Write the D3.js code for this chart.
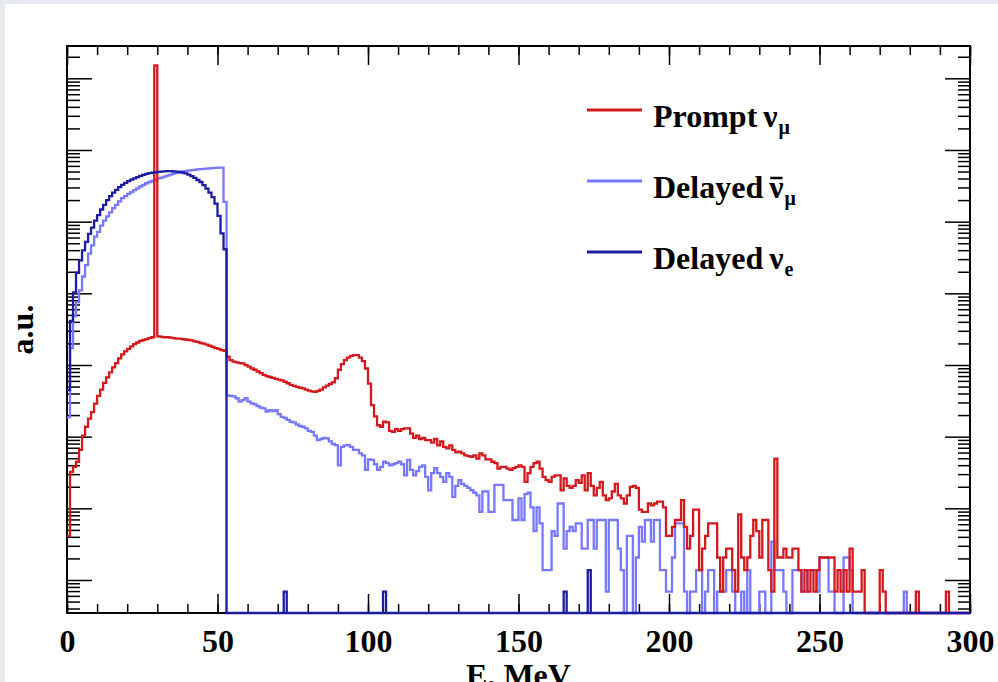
<!DOCTYPE html>
<html>
<head>
<meta charset="utf-8">
<script src="https://cdn.jsdelivr.net/npm/d3@7"></script>
<style>
  html, body { margin: 0; padding: 0; background: #fff; }
  svg { display: block; }
  text { font-family: "Liberation Serif", "Times New Roman", serif; font-weight: bold; font-size: 32px; fill: #000; }
</style>
</head>
<body>
<svg id="chart" width="998" height="682"></svg>
<script>
// energy bins: 1 MeV wide, 0..300 MeV; contents in entries per bin
const binWidth = 1;
const energyRange = [0, 300];
const auPerCount = 0.687; // entries -> a.u. on the log axis

const promptNuMu = [
  6, 47, 55, 65, 95, 150, 200, 260, 320, 420,
  540, 660, 820, 980, 1150, 1350, 1550, 1800, 2050, 2250,
  2450, 2650, 2850, 3000, 3150, 3250, 3350, 3450, 3550, 22000000,
  3650, 3600, 3550, 3550, 3500, 3450, 3400, 3400, 3350, 3300,
  3250, 3200, 3100, 3050, 2950, 2900, 2800, 2700, 2600, 2500,
  2450, 2350, 2300, 1900, 1700, 1620, 1580, 1550, 1530, 1450,
  1380, 1300, 1250, 1180, 1120, 1060, 1020, 990, 960, 930,
  910, 890, 850, 810, 770, 745, 720, 700, 685, 660,
  640, 625, 615, 635, 660, 710, 750, 790, 830, 950,
  1250, 1500, 1700, 1850, 1950, 2000, 2000, 1850, 1650, 1300,
  800, 400, 280, 210, 200, 235, 230, 175, 170, 185,
  175, 185, 190, 190, 160, 140, 150, 135, 140, 130,
  130, 120, 135, 110, 125, 105, 100, 110, 95, 88,
  90, 85, 80, 78, 76, 80, 72, 85, 80, 70,
  70, 65, 62, 52, 55, 55, 52, 50, 53, 55,
  58, 55, 34, 45, 55, 62, 65, 52, 40, 36,
  34, 40, 42, 42, 26, 38, 30, 28, 30, 36,
  33, 42, 26, 45, 30, 22, 28, 34, 22, 19,
  20, 25, 32, 22, 20, 17, 22, 29, 30, 28,
  14, 13, 13, 17, 16, 17, 18, 18, 15, 6,
  6, 8, 10, 10, 19, 8, 4, 6, 14, 14,
  2, 4, 6, 9, 9, 9, 3, 1, 3, 4,
  4, 2, 1, 12, 3, 2, 3, 6, 10, 7,
  3, 10, 10, 2, 1, 72, 3, 3, 4, 3,
  3, 4, 4, 2, 1, 2, 1, 2, 1, 2,
  3, 3, 3, 3, 3, 1, 2, 1, 2, 1,
  4, 1, 1, 1, 2, 0, 0, 0, 0, 0,
  2, 1, 0, 0, 0, 0, 0, 0, 0, 0,
  0, 0, 1, 0, 0, 0, 0, 0, 0, 0,
  0, 0, 1, 0, 0, 0, 0, 0, 0, 0
];

const delayedNuMuBar = [
  270, 2500, 7000, 11000, 16000, 25000, 36000, 52000, 68000, 90000,
  105000, 128000, 150000, 172000, 196000, 225000, 250000, 280000, 310000, 330000,
  355000, 375000, 400000, 425000, 450000, 475000, 500000, 520000, 540000, 560000,
  585000, 600000, 620000, 640000, 660000, 684000, 700000, 715000, 728000, 740000,
  750000, 760000, 770000, 780000, 785000, 795000, 800000, 808000, 815000, 820000,
  825000, 828000, 275000, 550, 540, 530, 500, 450, 470, 500,
  450, 425, 410, 390, 370, 360, 325, 340, 330, 340,
  300, 275, 265, 250, 235, 230, 215, 205, 200, 190,
  175, 170, 150, 130, 135, 140, 138, 125, 115, 111,
  58, 105, 110, 111, 105, 95, 95, 85, 80, 50,
  70, 69, 60, 50, 55, 65, 62, 58, 60, 62,
  65, 60, 42, 69, 50, 42, 48, 55, 58, 40,
  26, 45, 53, 45, 40, 34, 45, 40, 21, 30,
  36, 32, 30, 28, 26, 24, 22, 13, 25, 25,
  13, 13, 31, 31, 31, 19, 19, 19, 10, 10,
  20, 10, 23, 24, 15, 7, 15, 9, 2, 2,
  2, 7, 6, 17, 17, 4, 7, 8, 7, 9,
  9, 4, 4, 10, 10, 4, 10, 10, 10, 1,
  10, 10, 10, 4, 2, 0, 6, 6, 0, 3,
  8, 5, 10, 10, 5, 10, 10, 2, 2, 1,
  1, 3, 9, 9, 9, 1, 0, 1, 1, 2,
  2, 0, 1, 2, 2, 0, 1, 1, 1, 2,
  2, 1, 0, 0, 1, 0, 2, 0, 0, 0,
  1, 1, 0, 0, 5, 2, 2, 2, 1, 0,
  0, 2, 2, 2, 1, 1, 2, 2, 2, 1,
  3, 3, 3, 1, 1, 0, 0, 0, 3, 3,
  2, 0, 0, 0, 0, 0, 0, 0, 0, 0,
  0, 0, 0, 0, 0, 0, 0, 0, 1, 0,
  0, 0, 0, 0, 0, 0, 0, 0, 0, 0,
  0, 0, 0, 0, 0, 0, 0, 0, 0, 0
];

const delayedNuE = [
  650, 6000, 15000, 28000, 42000, 58000, 76000, 98000, 120000, 150000,
  180000, 215000, 250000, 290000, 330000, 370000, 405000, 440000, 475000, 505000,
  535000, 560000, 585000, 610000, 635000, 655000, 675000, 690000, 700000, 712000,
  720000, 728000, 733000, 736000, 736000, 733000, 728000, 718000, 705000, 685000,
  660000, 630000, 595000, 555000, 520000, 470000, 420000, 370000, 320000, 260000,
  175000, 100000, 60000, 0, 0, 0, 0, 0, 0, 0,
  0, 0, 0, 0, 0, 0, 0, 0, 0, 0,
  0, 0, 1, 0, 0, 0, 0, 0, 0, 0,
  0, 0, 0, 0, 0, 0, 0, 0, 0, 0,
  0, 0, 0, 0, 0, 0, 0, 0, 0, 0,
  0, 0, 0, 0, 0, 1, 0, 0, 0, 0,
  0, 0, 0, 0, 0, 0, 0, 0, 0, 0,
  0, 0, 0, 0, 0, 0, 0, 0, 0, 0,
  0, 0, 0, 0, 0, 0, 0, 0, 0, 0,
  0, 0, 0, 0, 0, 0, 0, 0, 0, 0,
  0, 0, 0, 0, 0, 0, 0, 0, 0, 0,
  0, 0, 0, 0, 0, 1, 0, 0, 0, 0,
  0, 0, 0, 2, 0, 0, 0, 0, 0, 0,
  0, 0, 0, 0, 0, 0, 0, 0, 0, 0,
  0, 0, 0, 0, 0, 0, 0, 0, 0, 0,
  0, 0, 0, 0, 0, 0, 0, 0, 0, 0,
  0, 0, 0, 0, 0, 0, 0, 0, 0, 0,
  0, 0, 0, 0, 0, 0, 0, 0, 0, 0,
  0, 0, 0, 0, 0, 0, 0, 0, 0, 0,
  0, 0, 0, 0, 0, 0, 0, 0, 0, 0,
  0, 0, 0, 0, 0, 0, 0, 0, 0, 0,
  0, 0, 0, 0, 0, 0, 0, 0, 0, 0,
  0, 0, 0, 0, 0, 0, 0, 0, 0, 0,
  0, 0, 0, 0, 0, 0, 0, 0, 0, 0,
  0, 0, 0, 0, 0, 0, 0, 0, 0, 0
];

const legendLabels = ["Prompt", "Delayed", "Delayed"];
const legendSubs = ["μ", "μ", "e"];
const legendBars = [false, true, false];
const xTitle = "E, MeV";
const yTitle = "a.u.";

const colors = { prompt: "#d3191c", nuMuBar: "#7878ff", nuE: "#1c1ca0" };
const legendColors = [colors.prompt, colors.nuMuBar, colors.nuE];

const width = 998, height = 682;
const margin = { left: 67, right: 28, top: 46, bottom: 69 };
const frameW = width - margin.left - margin.right;
const frameH = height - margin.top - margin.bottom;

const svg = d3.select("#chart");

// grey page edge like the screenshot
svg.append("rect").attr("width", width).attr("height", height).attr("fill", "#e6e9ee");
svg.append("rect").attr("x", 5).attr("y", 4).attr("width", width - 5).attr("height", height - 4).attr("fill", "#fff");

const x = d3.scaleLinear().domain(energyRange).range([margin.left, margin.left + frameW]);
const y = d3.scaleLog().domain([0.3463, 2.824e7]).range([margin.top + frameH, margin.top]);

// frame
svg.append("rect")
  .attr("x", margin.left).attr("y", margin.top)
  .attr("width", frameW).attr("height", frameH)
  .attr("fill", "none").attr("stroke", "#000").attr("stroke-width", 2);

// ticks
const xMinor = x.ticks(30);
const xMajor = xMinor.filter(v => v % 50 === 0);
const yAll = y.ticks();
const isDecade = v => Math.abs(Math.log10(v) - Math.round(Math.log10(v))) < 1e-6;
const yMajor = yAll.filter(isDecade);
const yMinor = yAll.filter(v => !isDecade(v));

function addAxis(axis, tx, ty) {
  const g = svg.append("g").attr("transform", `translate(${tx},${ty})`).call(axis);
  g.select(".domain").remove();
  g.selectAll(".tick line").attr("stroke-width", 1.5);
  return g;
}

const bottomY = margin.top + frameH;
const rightX = margin.left + frameW;
addAxis(d3.axisBottom(x).tickValues(xMinor).tickSize(-9).tickFormat(""), 0, bottomY);
addAxis(d3.axisBottom(x).tickValues(xMajor).tickSize(-19).tickPadding(16).tickFormat(d3.format("d")), 0, bottomY);
addAxis(d3.axisTop(x).tickValues(xMinor).tickSize(-9).tickFormat(""), 0, margin.top);
addAxis(d3.axisTop(x).tickValues(xMajor).tickSize(-19).tickFormat(""), 0, margin.top);
addAxis(d3.axisLeft(y).tickValues(yMinor).tickSize(-13).tickFormat(""), margin.left, 0);
addAxis(d3.axisLeft(y).tickValues(yMajor).tickSize(-25).tickFormat(""), margin.left, 0);
addAxis(d3.axisRight(y).tickValues(yMinor).tickSize(-12).tickFormat(""), rightX, 0);
addAxis(d3.axisRight(y).tickValues(yMajor).tickSize(-25).tickFormat(""), rightX, 0);

// histograms (step lines, empty bins drop to the frame bottom)
const yFloor = y.domain()[0];
const histLine = d3.line()
  .x(d => x(d[0]))
  .y(d => y(Math.max(d[1] * auPerCount, yFloor)))
  .curve(d3.curveStepAfter);

function histPoints(counts) {
  const pts = counts.map((c, i) => [energyRange[0] + i * binWidth, c]);
  pts.push([energyRange[0] + counts.length * binWidth, counts[counts.length - 1]]);
  return pts;
}

[[delayedNuMuBar, colors.nuMuBar], [promptNuMu, colors.prompt], [delayedNuE, colors.nuE]]
  .forEach(([counts, col]) => {
    svg.append("path")
      .attr("d", histLine(histPoints(counts)))
      .attr("fill", "none")
      .attr("stroke", col)
      .attr("stroke-width", 2.3)
      .attr("stroke-linejoin", "miter");
  });

// axis titles
svg.append("text")
  .attr("x", margin.left + frameW / 2).attr("y", 686)
  .attr("text-anchor", "middle")
  .text(xTitle);

svg.append("text")
  .attr("transform", `translate(33,${margin.top + frameH / 2}) rotate(-90)`)
  .attr("text-anchor", "middle")
  .text(yTitle);

// legend
const legend = svg.append("g");
legendLabels.forEach((label, i) => {
  const ly = 110 + i * 71;
  legend.append("line")
    .attr("x1", 587).attr("x2", 642).attr("y1", ly).attr("y2", ly)
    .attr("stroke", legendColors[i]).attr("stroke-width", 3);
  const t = legend.append("text").attr("x", 653).attr("y", ly + 17);
  t.append("tspan").text(label);
  t.append("tspan").attr("dx", 6).text("ν");
  t.append("tspan").attr("font-size", 20).attr("dx", 1).attr("dy", 7).text(legendSubs[i]);
  if (legendBars[i]) {
    const ext = t.node().getExtentOfChar(label.length);
    legend.append("line")
      .attr("x1", ext.x + 1).attr("x2", ext.x + ext.width - 1)
      .attr("y1", ly - 3).attr("y2", ly - 3)
      .attr("stroke", "#000").attr("stroke-width", 2.5);
  }
});
</script>
</body>
</html>
